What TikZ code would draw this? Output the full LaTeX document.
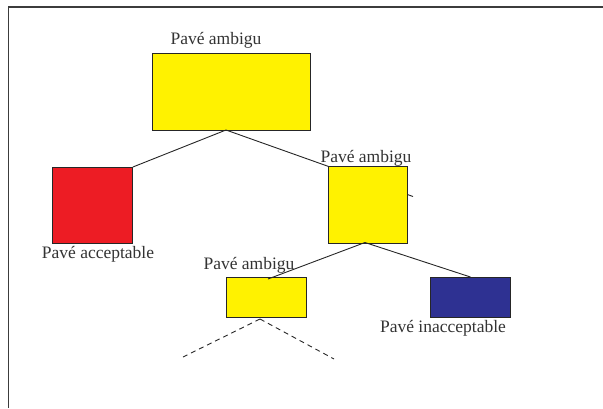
\documentclass[tikz,border=0pt]{standalone}
\usepackage{fontspec}
\setmainfont{Liberation Serif}
\definecolor{pyellow}{RGB}{255,242,0}
\definecolor{pred}{RGB}{237,28,36}
\definecolor{pnavy}{RGB}{46,49,146}
\definecolor{frame}{RGB}{60,60,60}
\begin{document}
\begin{tikzpicture}[x=1pt,y=-1pt,
  pave/.style={draw=black!85,line width=0.9pt,inner sep=0pt,anchor=north west},
  lbl/.style={font=\fontsize{17.5}{20}\selectfont,text=black!80,inner sep=0pt},
  link/.style={draw=black!85,line width=0.9pt},
  dlink/.style={draw=black!85,line width=0.9pt,dash pattern=on 5pt off 4pt}]
\useasboundingbox (0,0) rectangle (603,408);
\draw[frame,line width=1.6pt] (8.5,408) -- (8.5,7) -- (603,7);
% boxes
\node[pave,fill=pyellow,minimum width=158pt,minimum height=77pt] (top) at (152,53) {};
\node[pave,fill=pred,minimum width=80pt,minimum height=76pt] (red) at (52,167) {};
\coordinate (topout) at (226,130);
\coordinate (stub) at (413,196.5);
\draw[link] (topout) -- (red.north east);
\draw[link] (topout) -- (stub);
\node[pave,fill=pyellow,minimum width=79pt,minimum height=77pt] (mid) at (328,165.5) {};
\node[pave,fill=pyellow,minimum width=80pt,minimum height=40pt] (small) at (226,277) {};
\node[pave,fill=pnavy,minimum width=80pt,minimum height=40pt] (navy) at (430,277) {};
\coordinate (midout) at (365,242.5);
\coordinate (smallin) at (268,279);
\draw[link] (midout) -- (smallin);
\draw[link] (midout) -- (navy.north);
\coordinate (d0) at (260,319);
\coordinate (dl) at (183,357);
\coordinate (dr) at (334,359);
\draw[dlink] (d0) -- (dl);
\draw[dlink] (d0) -- (dr);
% labels
\node[lbl] (ltop) at (216,40) {Pavé ambigu};
\node[lbl] (lmid) at (366,158) {Pavé ambigu};
\node[lbl] (lred) at (98,254) {Pavé acceptable};
\node[lbl] (lsmall) at (249,265) {Pavé ambigu};
\node[lbl] (lnavy) at (443,328) {Pavé inacceptable};
\end{tikzpicture}
\end{document}
